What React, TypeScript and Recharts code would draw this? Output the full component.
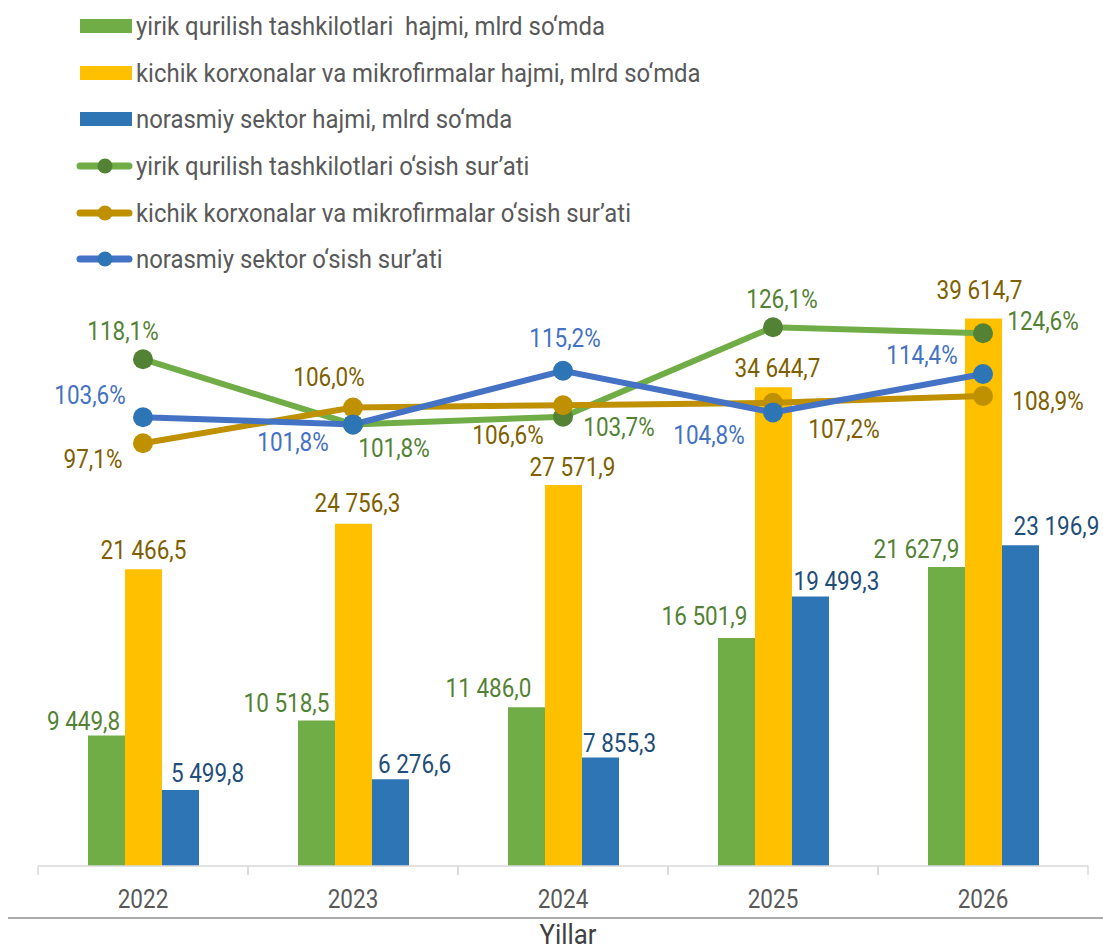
import { ComposedChart, Bar, Line, XAxis, YAxis, LabelList } from 'recharts'

const years = ['2022', '2023', '2024', '2025', '2026']
const largeVolume = [9449.8, 10518.5, 11486.0, 16501.9, 21627.9]
const smallVolume = [21466.5, 24756.3, 27571.9, 34644.7, 39614.7]
const informalVolume = [5499.8, 6276.6, 7855.3, 19499.3, 23196.9]
const largeGrowth = [118.1, 101.8, 103.7, 126.1, 124.6]
const smallGrowth = [97.1, 106.0, 106.6, 107.2, 108.9]
const informalGrowth = [103.6, 101.8, 115.2, 104.8, 114.4]

const seriesNames = [
  'yirik qurilish tashkilotlari  hajmi, mlrd so‘mda',
  'kichik korxonalar va mikrofirmalar hajmi, mlrd so‘mda',
  'norasmiy sektor hajmi, mlrd so‘mda',
  'yirik qurilish tashkilotlari o‘sish sur’ati',
  'kichik korxonalar va mikrofirmalar o‘sish sur’ati',
  'norasmiy sektor o‘sish sur’ati',
]

// label nudges (dx, dy from bar top / point), as placed in the original
const largeBarOffsets = [[-23, -14], [-30, -17], [-38, -19], [-32, -21], [-30, -17]]
const smallBarOffsets = [[0, -19], [4, -20], [9, -17], [4, -19], [-4, -28]]
const informalBarOffsets = [[27, -16], [24, -15], [19, -14], [26, -15], [36, -19]]
const largeDotOffsets = [[-20, -28], [41, 24], [56, 11], [9, -28], [60, -12]]
const smallDotOffsets = [[-50, 16], [-24, -30], [-55, 30], [71, 27], [65, 6]]
const informalDotOffsets = [[-53, -22], [-60, 18], [2, -32], [-64, 23], [-61, -18]]

const data = years.map((year, i) => ({
  year,
  large: largeVolume[i],
  small: smallVolume[i],
  informal: informalVolume[i],
  largeG: largeGrowth[i],
  smallG: smallGrowth[i],
  informalG: informalGrowth[i],
}))

const W = 1103
const H = 952
const PLOT_LEFT = 38
const PLOT_RIGHT = 1088
const PLOT_TOP = 244
const PLOT_BOTTOM = 866
const FONT = 'Roboto, sans-serif'
const SQUEEZE = 0.9

const fmtVolume = (v: number) => {
  const [int, dec] = v.toFixed(1).split('.')
  return `${int.replace(/\B(?=(\d{3})+(?!\d))/g, ' ')},${dec}`
}
const fmtGrowth = (v: number) => `${v.toFixed(1).replace('.', ',')}%`

function CText({ x, y, color, size = 25, children }: any) {
  return (
    <text
      transform={`translate(${x},${y}) scale(${SQUEEZE},1)`}
      textAnchor="middle"
      dominantBaseline="central"
      fill={color}
      fontSize={size}
      fontFamily={FONT}
    >
      {children}
    </text>
  )
}

const barLabel = (offsets: number[][], color: string) => (props: any) => {
  const { x, y, width, value, index } = props
  const [dx, dy] = offsets[index]
  return <CText x={Number(x) + Number(width) / 2 + dx} y={Number(y) + dy} color={color}>{fmtVolume(value)}</CText>
}

const dotLabel = (offsets: number[][], color: string) => (props: any) => {
  const { x, y, value, index } = props
  const [dx, dy] = offsets[index]
  return <CText x={Number(x) + dx} y={Number(y) + dy} color={color}>{fmtGrowth(value)}</CText>
}

const XTick = (props: any) => {
  const { x, payload } = props
  const half = (PLOT_RIGHT - PLOT_LEFT) / years.length / 2
  return (
    <g>
      <line x1={x - half} x2={x - half} y1={PLOT_BOTTOM} y2={PLOT_BOTTOM + 9} stroke="#D9D9D9" strokeWidth={1.5} />
      <line x1={x + half} x2={x + half} y1={PLOT_BOTTOM} y2={PLOT_BOTTOM + 9} stroke="#D9D9D9" strokeWidth={1.5} />
      <CText x={x} y={900} color="#595959">{payload.value}</CText>
    </g>
  )
}

const legendItems = [
  { name: seriesNames[0], kind: 'bar', color: '#70AD47' },
  { name: seriesNames[1], kind: 'bar', color: '#FFC000' },
  { name: seriesNames[2], kind: 'bar', color: '#2E75B6' },
  { name: seriesNames[3], kind: 'line', color: '#70AD47', dot: '#548235' },
  { name: seriesNames[4], kind: 'line', color: '#BF9000', dot: '#BF9000' },
  { name: seriesNames[5], kind: 'line', color: '#4472C4', dot: '#2E75B6' },
]

function ChartLegend() {
  return (
    <div style={{ position: 'absolute', left: 76, top: 3, fontFamily: FONT }}>
      {legendItems.map((item) => (
        <div key={item.name} style={{ display: 'flex', alignItems: 'center', height: 46.6 }}>
          <svg width={60} height={20} style={{ flex: 'none' }}>
            {item.kind === 'bar' ? (
              <rect x={4} y={3} width={52} height={14} fill={item.color} />
            ) : (
              <g>
                <line x1={4} x2={53} y1={10} y2={10} stroke={item.color} strokeWidth={7} strokeLinecap="round" />
                <circle cx={29} cy={10} r={7.5} fill={item.dot} />
              </g>
            )}
          </svg>
          <span
            style={{
              display: 'inline-block',
              whiteSpace: 'pre',
              fontSize: 26,
              color: '#595959',
              transform: 'scaleX(0.92)',
              transformOrigin: 'left center',
            }}
          >
            {item.name}
          </span>
        </div>
      ))}
    </div>
  )
}

export default function App() {
  return (
    <div style={{ position: 'relative', width: W, height: H, background: '#fff', overflow: 'hidden' }}>
      <style>{'body{margin:0}'}</style>
      <ComposedChart
        width={W}
        height={H}
        data={data}
        margin={{ top: PLOT_TOP, right: W - PLOT_RIGHT, left: PLOT_LEFT, bottom: H - PLOT_BOTTOM - 40 }}
        barGap={0}
      >
        <XAxis
          dataKey="year"
          height={40}
          axisLine={{ stroke: '#D9D9D9', strokeWidth: 1.5 }}
          tickLine={false}
          tick={<XTick />}
          interval={0}
        />
        <YAxis yAxisId="vol" hide domain={[0, 45000]} />
        <YAxis yAxisId="rate" hide orientation="right" domain={[-8.6, 146.9]} />
        <Bar yAxisId="vol" dataKey="large" name={seriesNames[0]} fill="#70AD47" barSize={37} isAnimationActive={false}>
          <LabelList dataKey="large" content={barLabel(largeBarOffsets, '#548235')} />
        </Bar>
        <Bar yAxisId="vol" dataKey="small" name={seriesNames[1]} fill="#FFC000" barSize={37} isAnimationActive={false}>
          <LabelList dataKey="small" content={barLabel(smallBarOffsets, '#7F6000')} />
        </Bar>
        <Bar yAxisId="vol" dataKey="informal" name={seriesNames[2]} fill="#2E75B6" barSize={37} isAnimationActive={false}>
          <LabelList dataKey="informal" content={barLabel(informalBarOffsets, '#1F4E79')} />
        </Bar>
        <Line
          yAxisId="rate"
          dataKey="largeG"
          name={seriesNames[3]}
          stroke="#70AD47"
          strokeWidth={6}
          dot={{ r: 10, fill: '#548235', stroke: '#548235', strokeWidth: 0 }}
          isAnimationActive={false}
        >
          <LabelList dataKey="largeG" content={dotLabel(largeDotOffsets, '#548235')} />
        </Line>
        <Line
          yAxisId="rate"
          dataKey="smallG"
          name={seriesNames[4]}
          stroke="#BF9000"
          strokeWidth={6}
          dot={{ r: 10, fill: '#BF9000', stroke: '#BF9000', strokeWidth: 0 }}
          isAnimationActive={false}
        >
          <LabelList dataKey="smallG" content={dotLabel(smallDotOffsets, '#7F6000')} />
        </Line>
        <Line
          yAxisId="rate"
          dataKey="informalG"
          name={seriesNames[5]}
          stroke="#4472C4"
          strokeWidth={6}
          dot={{ r: 10, fill: '#2E75B6', stroke: '#2E75B6', strokeWidth: 0 }}
          isAnimationActive={false}
        >
          <LabelList dataKey="informalG" content={dotLabel(informalDotOffsets, '#4472C4')} />
        </Line>
      </ComposedChart>
      <ChartLegend />
      <div style={{ position: 'absolute', left: 8, right: 0, top: 917, borderTop: '2px solid #ABABAB' }} />
      <svg width={W} height={H} style={{ position: 'absolute', left: 0, top: 0, pointerEvents: 'none' }}>
        <text
          transform={`translate(568,944) scale(0.92,1)`}
          textAnchor="middle"
          fill="#404040"
          fontSize={28}
          fontFamily={FONT}
        >
          Yillar
        </text>
      </svg>
    </div>
  )
}
